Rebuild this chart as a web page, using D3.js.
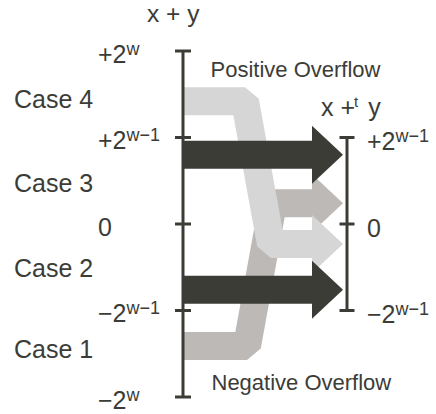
<!DOCTYPE html>
<html>
<head>
<meta charset="utf-8">
<script src="https://cdn.jsdelivr.net/npm/d3@7"></script>
<style>
  html, body { margin: 0; padding: 0; background: #ffffff; }
  svg { display: block; }
  text { font-family: "Liberation Sans", Arial, Helvetica, sans-serif; fill: #3c3c37; }
</style>
</head>
<body>
<svg id="chart" width="436" height="414"></svg>
<script>
// ---- data (values in units of 2^(w-1)) ----
const leftTickValues = [2, 1, 0, -1, -2];
const leftTickLabels = [["+2", "w"], ["+2", "w\u22121"], ["0", ""], ["\u22122", "w\u22121"], ["\u22122", "w"]];
const rightTickValues = [1, 0, -1];
const rightTickLabels = [["+2", "w\u22121"], ["0", ""], ["\u22122", "w\u22121"]];
const caseNames = ["Case 1", "Case 2", "Case 3", "Case 4"];
const caseLabelValues = [-1.44, -0.51, 0.47, 1.45];
const flowFrom = [-1.41, -0.76, 0.80, 1.42];   // x + y
const flowTo = [0.24, -0.76, 0.80, -0.23];     // x +t y
const flowKind = ["negative", "normal", "normal", "positive"];
const overflowLabels = ["Positive Overflow", "Negative Overflow"];

// ---- styles / layout ----
const colors = { normal: "#3c3c37", positive: "#d6d6d6", negative: "#bdb9b6" };
const ink = "#3c3c37";
const svg = d3.select("#chart");
const y = d3.scaleLinear().domain([-2, 2]).range([397, 51]);
const xLeft = 183, xRight = 347;
const bendA = { negative: 247, positive: 245 };
const bendB = { negative: 273, positive: 271 };
const headBase = 312, headTip = 343, headHalf = 29, shaftW = 28;

// ---- flows ----
const order = [0, 3, 1, 2]; // mid gray, light gray, then dark arrows
const line = d3.line();
order.forEach(i => {
  const k = flowKind[i];
  const y0 = y(flowFrom[i]), y1 = y(flowTo[i]);
  const pts = (k === "normal")
    ? [[xLeft, y0], [headBase + 1, y1]]
    : [[xLeft, y0], [bendA[k], y0], [bendB[k], y1], [headBase + 1, y1]];
  svg.append("path")
    .attr("d", line(pts))
    .attr("fill", "none")
    .attr("stroke", colors[k])
    .attr("stroke-width", shaftW)
    .attr("stroke-linejoin", "bevel")
    .attr("stroke-linecap", "butt");
  svg.append("path")
    .attr("d", line([[headBase, y1 - headHalf], [headTip, y1], [headBase, y1 + headHalf]]) + "Z")
    .attr("fill", colors[k]);
});

// ---- axes ----
function drawAxis(x, values, halfW) {
  const g = svg.append("g");
  g.append("line")
    .attr("x1", x).attr("x2", x)
    .attr("y1", y(d3.max(values))).attr("y2", y(d3.min(values)))
    .attr("stroke", ink).attr("stroke-width", 3);
  g.selectAll("line.t").data(values).enter().append("line")
    .attr("class", "t")
    .attr("x1", x - halfW).attr("x2", x + halfW)
    .attr("y1", d => y(d)).attr("y2", d => y(d))
    .attr("stroke", ink).attr("stroke-width", 3);
}
drawAxis(xLeft, leftTickValues, 8);
drawAxis(xRight, rightTickValues, 7.5);

function tickLabels(values, labels, x, dyBase) {
  values.forEach((v, i) => {
    const t = svg.append("text")
      .attr("x", x).attr("y", y(v) + dyBase)
      .attr("font-size", 25);
    t.append("tspan").text(labels[i][0]);
    if (labels[i][1]) {
      t.append("tspan").attr("dy", -8).attr("font-size", 18).text(labels[i][1]);
    }
  });
}
tickLabels(leftTickValues, leftTickLabels, 98, 11.5);
tickLabels(rightTickValues, rightTickLabels, 367, 12.5);

// ---- case labels ----
caseNames.forEach((c, i) => {
  svg.append("text")
    .attr("x", 14).attr("y", y(caseLabelValues[i]) + 9)
    .attr("font-size", 25)
    .text(c);
});

// ---- titles ----
svg.append("text").attr("x", 147).attr("y", 22).attr("font-size", 24.5).text("x + y");
const t2 = svg.append("text").attr("x", 321).attr("y", 116).attr("font-size", 25);
t2.append("tspan").text("x +");
t2.append("tspan").attr("dy", -9).attr("dx", -1).attr("font-size", 15).text("t");
t2.append("tspan").attr("dy", 9).attr("dx", 3).text(" y");

svg.append("text").attr("x", 210.5).attr("y", 76.5).attr("font-size", 22).text(overflowLabels[0]);
svg.append("text").attr("x", 211.5).attr("y", 390).attr("font-size", 22).text(overflowLabels[1]);
</script>
</body>
</html>
